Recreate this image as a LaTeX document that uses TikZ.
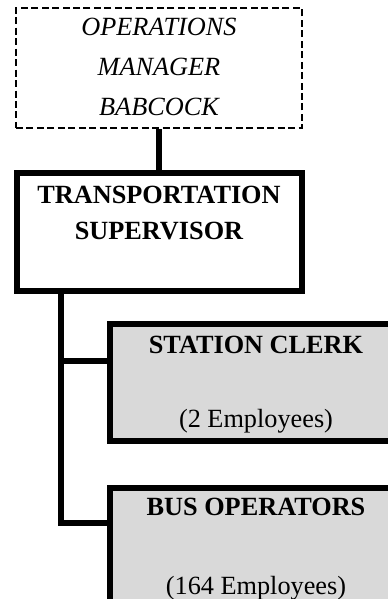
\documentclass[tikz,border=0pt]{standalone}
\usepackage{fontspec}
\setmainfont{Liberation Serif}
\usetikzlibrary{positioning,calc}
\definecolor{boxgrey}{HTML}{D9D9D9}

\begin{document}
\begin{tikzpicture}[x=0.75pt, y=-0.75pt, node distance=30.75pt,
  box/.style={rectangle, draw=black, line width=4.5pt, inner sep=0pt, align=center},
  wire/.style={draw=black, line width=4.5pt}]
\clip (0,0) rectangle (388,599);

% manager (dashed, outside the unit)
\node[rectangle, draw=black, line width=1.8pt, dash pattern=on 5.25pt off 2.6pt,
  inner sep=0pt, align=center, minimum width=214.5pt, minimum height=87pt,
  font=\fontsize{19.7}{30}\selectfont\itshape] (mgr) at (159,68)
  {\strut OPERATIONS\\\strut MANAGER\\\strut BABCOCK};

\node[box, below=of mgr, minimum width=213.75pt, minimum height=88.1pt,
  font=\fontsize{19.7}{27}\selectfont\bfseries] (trans)
  {\strut TRANSPORTATION\\\strut SUPERVISOR\\\strut};

% staff
\node[box, fill=boxgrey, minimum width=219pt, minimum height=87.4pt,
  font=\fontsize{19.7}{27.75}\selectfont] (clerk) at (256,382.75)
  {\strut\textbf{STATION CLERK}\\\strut\\\strut(2 Employees)};
\node[box, fill=boxgrey, below=of clerk, minimum width=219pt, minimum height=86.4pt,
  font=\fontsize{19.7}{29.6}\selectfont] (bus)
  {\strut\textbf{BUS OPERATORS}\\\strut\\\strut(164 Employees)};

\coordinate (tap) at ($(trans.south west)+(47,0)$);
\coordinate (clerkin) at ($(clerk.north west)+(0,39.5)$);
\coordinate (busin) at ($(bus.north west)+(0,38)$);

\draw[wire] (mgr) -- (trans);
\draw[wire] (tap) |- (busin);
\draw[wire] (tap |- clerkin) -- (clerkin);
\end{tikzpicture}
\end{document}
